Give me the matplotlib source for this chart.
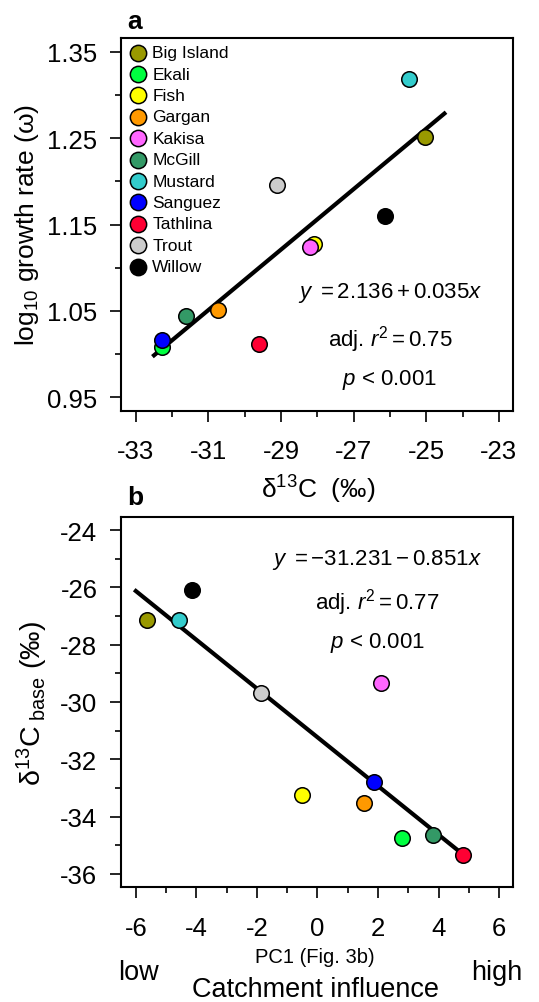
import matplotlib
matplotlib.use("Agg")
import matplotlib.pyplot as plt
from matplotlib.ticker import MultipleLocator

plt.rcParams["font.family"] = ["Liberation Sans", "DejaVu Sans"]
plt.rcParams["mathtext.fontset"] = "custom"
plt.rcParams["mathtext.rm"] = "Liberation Sans"
plt.rcParams["mathtext.it"] = "Liberation Sans:italic"
plt.rcParams["axes.unicode_minus"] = False

# lakes and colours
lakes = ["Big Island", "Ekali", "Fish", "Gargan", "Kakisa", "McGill",
         "Mustard", "Sanguez", "Tathlina", "Trout", "Willow"]
colors = ["#999900", "#00ff40", "#ffff00", "#ff9900", "#ff66ff", "#339966",
          "#33cccc", "#0000ff", "#ff0033", "#cccccc", "#000000"]

# panel a: d13C vs log10 growth rate
d13c = [-25.03, -32.27, -28.09, -30.74, -28.21, -31.61, -25.48, -32.28, -29.62, -29.11, -26.15]
growth = [1.251, 1.008, 1.127, 1.051, 1.124, 1.044, 1.319, 1.016, 1.012, 1.196, 1.160]
fit_a = (2.136, 0.035)
fit_a_x = [-32.5, -24.5]

# panel b: PC1 vs d13C base
pc1 = [-5.62, 2.79, -0.51, 1.53, 2.11, 3.83, -4.57, 1.87, 4.80, -1.88, -4.13]
d13c_base = [-27.14, -34.75, -33.24, -33.52, -29.33, -34.64, -27.12, -32.80, -35.33, -29.69, -26.08]
fit_b = (-31.231, -0.851)
fit_b_x = [-6.0, 4.8]

W, H = 539, 1003
fig = plt.figure(figsize=(W / 100, H / 100), dpi=100)

def fx(px): return px / W
def fy(py): return 1 - py / H

ax_a = fig.add_axes([fx(121), fy(412), fx(513) - fx(121), fy(39) - fy(412)])
ax_b = fig.add_axes([fx(121), fy(888), fx(513) - fx(121), fy(518) - fy(888)])

def style(ax, xpad):
    for s in ax.spines.values():
        s.set_linewidth(1.5)
    ax.tick_params(which="major", direction="out", length=8, width=1.2,
                   labelsize=18.5, pad=9)
    ax.tick_params(axis="x", which="major", pad=xpad)
    ax.tick_params(which="minor", direction="out", length=4, width=1.2)

# ---- panel a
ax_a.plot(fit_a_x, [fit_a[0] + fit_a[1] * x for x in fit_a_x], color="black", lw=3, zorder=2)
for x, y, c, name in zip(d13c, growth, colors, lakes):
    ax_a.scatter(x, y, s=125, c=c, edgecolors="black", linewidths=1.1, zorder=3, label=name)
ax_a.set_xlim(-33.41, -22.61)
ax_a.set_ylim(0.934, 1.366)
ax_a.set_xticks([-33, -31, -29, -27, -25, -23])
ax_a.set_yticks([0.95, 1.05, 1.15, 1.25, 1.35])
ax_a.xaxis.set_minor_locator(MultipleLocator(1))
ax_a.yaxis.set_minor_locator(MultipleLocator(0.05))
style(ax_a, 12)
ax_a.set_ylabel("log$_{10}$ growth rate (ω)", fontsize=19)
ax_a.yaxis.set_label_coords(-0.205, 0.5)
leg = ax_a.legend(loc="upper left", bbox_to_anchor=(0.0, 1.0), frameon=False,
                  fontsize=12.5, labelspacing=0.36, handletextpad=0.2,
                  borderaxespad=0.2, handlelength=1.2, borderpad=0.2,
                  markerscale=1.05)
ax_a.text(0.686, 0.319, r"$y\ = 2.136 + 0.035x$", transform=ax_a.transAxes,
          ha="center", va="center", fontsize=16)
ax_a.text(0.686, 0.193, r"adj. $r^2 = 0.75$", transform=ax_a.transAxes,
          ha="center", va="center", fontsize=16)
ax_a.text(0.686, 0.086, r"$p$ < 0.001", transform=ax_a.transAxes,
          ha="center", va="center", fontsize=16)
fig.text(fx(318), fy(490), "δ$^{13}$C  (‰)", ha="center", va="center", fontsize=19)
fig.text(fx(127), fy(22), "a", ha="left", va="center", fontsize=19, fontweight="bold")

# ---- panel b
ax_b.plot(fit_b_x, [fit_b[0] + fit_b[1] * x for x in fit_b_x], color="black", lw=3, zorder=2)
for x, y, c in zip(pc1, d13c_base, colors):
    ax_b.scatter(x, y, s=125, c=c, edgecolors="black", linewidths=1.1, zorder=3)
ax_b.set_xlim(-6.49, 6.46)
ax_b.set_ylim(-36.46, -23.54)
ax_b.set_xticks([-6, -4, -2, 0, 2, 4, 6])
ax_b.set_yticks([-36, -34, -32, -30, -28, -26, -24])
ax_b.xaxis.set_minor_locator(MultipleLocator(1))
ax_b.yaxis.set_minor_locator(MultipleLocator(1))
style(ax_b, 13)
ax_b.set_ylabel(r"δ$^{13}$C$_{\mathrm{\ base}}$ (‰)", fontsize=20.5)
ax_b.yaxis.set_label_coords(-0.18, 0.5)
ax_b.text(0.654, 0.886, r"$y\ = -31.231 - 0.851x$", transform=ax_b.transAxes,
          ha="center", va="center", fontsize=16)
ax_b.text(0.654, 0.771, r"adj. $r^2 = 0.77$", transform=ax_b.transAxes,
          ha="center", va="center", fontsize=16)
ax_b.text(0.654, 0.663, r"$p$ < 0.001", transform=ax_b.transAxes,
          ha="center", va="center", fontsize=16)
fig.text(fx(127), fy(498), "b", ha="left", va="center", fontsize=19, fontweight="bold")
fig.text(fx(315), fy(958), "PC1 (Fig. 3b)", ha="center", va="center", fontsize=14.5)
fig.text(fx(138), fy(973), "low", ha="center", va="center", fontsize=19.5)
fig.text(fx(497), fy(973), "high", ha="center", va="center", fontsize=19.5)
fig.text(fx(315), fy(990), "Catchment influence", ha="center", va="center", fontsize=19.5)

fig.savefig("out.png", dpi=100)
